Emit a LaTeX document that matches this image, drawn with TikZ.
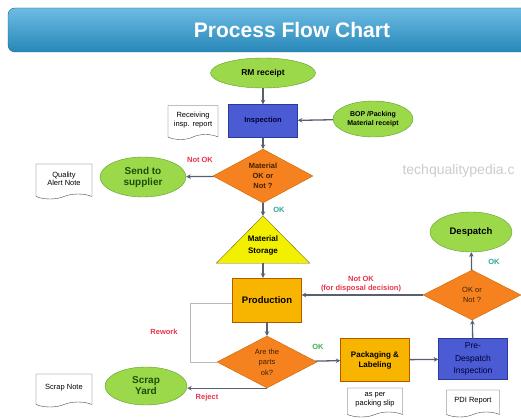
\documentclass[tikz,border=0pt]{standalone}
\usepackage{fontspec}
\setmainfont{Liberation Sans}
\usetikzlibrary{shapes.geometric,shapes.symbols,arrows.meta}

\definecolor{barblue}{HTML}{2E9FD8}
\definecolor{leaf}{HTML}{9BD94A}
\definecolor{leafline}{HTML}{5E9E2A}
\definecolor{inspblue}{HTML}{4A5BD4}
\definecolor{inspline}{HTML}{2B3A99}
\definecolor{decor}{HTML}{F5821F}
\definecolor{prodyel}{HTML}{F7B500}
\definecolor{storyel}{HTML}{F2F000}
\definecolor{notred}{HTML}{E8334A}
\definecolor{okteal}{HTML}{2AA89A}
\definecolor{okgreen}{HTML}{3FB04A}
\definecolor{linegray}{HTML}{56606E}
\definecolor{darkleaf}{HTML}{1E4D0A}

\begin{document}
\begin{tikzpicture}[x=1pt,y=-1pt,
    oval/.style={ellipse,draw=leafline,fill=leaf,inner sep=0pt,align=center},
    bluebox/.style={rectangle,draw=inspline,fill=inspblue,inner sep=0pt,align=center,text=black!80!blue},
    yelbox/.style={rectangle,draw=orange!70!black,fill=prodyel,inner sep=0pt,align=center},
    decide/.style={diamond,draw=orange!80!black,fill=decor,inner sep=0pt,align=center,text=black!75!orange},
    docnote/.style={tape,tape bend top=none,tape bend height=5pt,draw=gray!60!black,fill=white,inner sep=0pt,align=center,font=\fontsize{7.5}{8.5}\selectfont},
    flow/.style={draw=linegray,line width=1.3pt,-{Stealth[length=4.5pt,width=4.5pt]}},
    tag/.style={font=\bfseries\fontsize{7.5}{8.5}\selectfont,align=center}]
    \useasboundingbox (0,0) rectangle (521,419);
    \clip (0,0) rectangle (521,419);
    \fill[white] (0,0) rectangle (521,419);

    % title bar
    \shade[top color=barblue!70!white,bottom color=barblue!85!black,draw=barblue!60!black,rounded corners=7pt] (8,8) rectangle (545,52);
    \node[text=white,font=\bfseries\fontsize{21}{24}\selectfont] (title) at (292,30) {Process Flow Chart};
    \node[text=gray!40,font=\fontsize{14}{16}\selectfont,anchor=west] (mark) at (399,171) {techqualitypedia.c};

    % receipt and inspection
    \node[oval,minimum width=105,minimum height=30,font=\bfseries\fontsize{8.5}{9.5}\selectfont] (rm) at (263,73) {RM receipt};
    \node[bluebox,minimum width=69,minimum height=33,font=\bfseries\fontsize{7.5}{8.5}\selectfont] (insp) at (263,121) {Inspection};
    \node[docnote,minimum width=50,minimum height=34] (recv) at (193,120) {Receiving\\insp. report};
    \node[oval,minimum width=80,minimum height=36,font=\bfseries\fontsize{7}{8.5}\selectfont] (bop) at (373,119) {BOP /Packing\\Material receipt};
    \node[decide,minimum width=100,minimum height=52,font=\bfseries\fontsize{7.5}{10}\selectfont] (matok) at (263,176) {Material\\OK or\\Not ?};
    \node[oval,minimum width=86,minimum height=40,text=darkleaf,font=\bfseries\fontsize{10}{11}\selectfont] (send) at (143,177) {Send to\\supplier};
    \node[docnote,minimum width=56,minimum height=35] (qan) at (64,179) {Quality\\Alert Note};

    % storage and production
    \node[inner sep=0pt,minimum width=93,minimum height=47] (stor) at (263,239.5) {};
    \filldraw[fill=storyel,draw=olive!70!black] (stor.north) -- (stor.south east) -- (stor.south west) -- cycle;
    \node[align=center,font=\bfseries\fontsize{8}{11.5}\selectfont] (storlbl) at ([yshift=-6pt]stor.center) {Material\\Storage};
    \node[yelbox,minimum width=69,minimum height=44,font=\bfseries\fontsize{9.5}{11}\selectfont] (prod) at (267,300) {Production};
    \node[decide,minimum width=100,minimum height=52,font=\fontsize{7.5}{10.5}\selectfont] (parts) at (267,362) {Are the\\parts\\ok?};
    \node[oval,minimum width=82,minimum height=38,text=darkleaf,font=\bfseries\fontsize{10}{11}\selectfont] (scrap) at (146,386) {Scrap\\Yard};
    \node[docnote,minimum width=56,minimum height=33] (snote) at (64,388) {Scrap Note};

    % packing and despatch
    \node[yelbox,minimum width=69,minimum height=43,font=\bfseries\fontsize{8}{10}\selectfont] (pack) at (375,360) {Packaging \&\\Labeling};
    \node[docnote,minimum width=55,minimum height=29] (slip) at (375,400) {as per\\packing slip};
    \node[bluebox,minimum width=69,minimum height=41,font=\fontsize{8.5}{12.5}\selectfont] (pdi) at (473,359) {Pre-\\Despatch\\Inspection};
    \node[docnote,minimum width=53,minimum height=27] (pdirep) at (473,401) {PDI Report};
    \node[decide,minimum width=98,minimum height=50,font=\fontsize{7.5}{9.5}\selectfont] (final) at (472,295) {OK or\\Not ?};
    \node[oval,minimum width=82,minimum height=40,font=\bfseries\fontsize{9.5}{11}\selectfont] (desp) at (471,232) {Despatch};

    % connectors
    \draw[flow] (rm) -- (insp);
    \draw[flow] (bop) -- (insp);
    \draw[flow] (insp) -- (matok);
    \draw[flow] (matok) -- (send);
    \draw[flow] (matok) -- (stor.north);
    \draw[flow] (stor.south) -- (stor.south |- prod.north);
    \draw[flow] (prod.south -| parts.north) -- (parts);
    \draw[draw=gray!55,line width=0.9pt] (prod.west |- 0,303) -| (190,362) -- (parts.west);
    \draw[flow] (parts.south) -- (parts.south -| scrap.east);
    \draw[flow] (parts) -- (pack);
    \draw[flow] (pack) -- (pdi);
    \draw[flow] (pdi) -- (final);
    \draw[flow] (final) -- (desp);
    \draw[flow] (final.west) -- (final.west -| prod.east);

    % labels
    \node[tag,text=notred] (nok1) at (200,160) {Not OK};
    \node[tag,text=okteal] (ok1) at (279,210) {OK};
    \node[tag,text=notred] (nok2) at (361,284) {Not OK\\(for disposal decision)};
    \node[tag,text=okteal] (ok2) at (494,262) {OK};
    \node[tag,text=okgreen] (ok3) at (318,347) {OK};
    \node[tag,text=notred] (rework) at (164,332) {Rework};
    \node[tag,text=notred] (reject) at (207,398) {Reject};
\end{tikzpicture}
\end{document}
